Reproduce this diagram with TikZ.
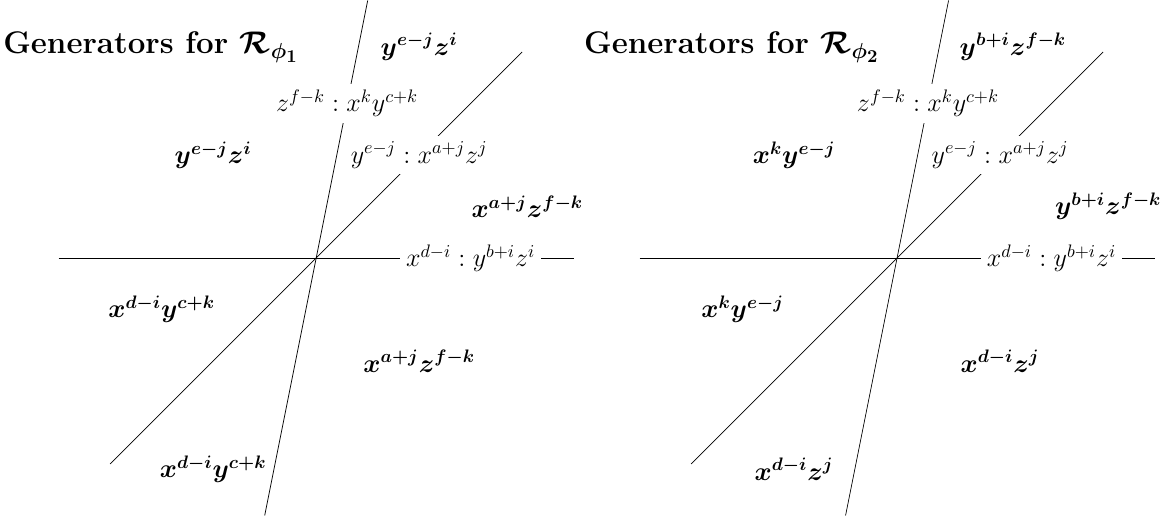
\documentclass[tikz,border=0pt]{standalone}
\usepackage{amsmath}
\usepackage{bm}
\usepackage{tikz}

\tikzset{
  gen/.style={font=\Large},
  cut/.style={fill=white, font=\Large},
  paneltitle/.style={font=\LARGE\bfseries, anchor=base west}
}

\begin{document}
\begin{tikzpicture}
\useasboundingbox (-6.14,-5.07) rectangle (16.58,5.01);

% Left fan
\begin{scope}
% Lines through the origin
\draw (-5,0) -- (5,0);
\draw (-4,-4) -- (4,4);
\draw (-1,-5) -- (1,5);

% Labels on the lines
\node[cut] (hA) at (3,0) {$x^{d-i} : y^{b+i}z^{i}$};
\node[cut] (dA) at (2,2) {$y^{e-j} : x^{a+j}z^{j}$};
\node[cut] (sA) at (0.6,3) {$z^{f-k} : x^{k}y^{c+k}$};

% Generators in the chambers
\node[paneltitle] (tA) at (-6.2,3.97) {Generators for $\bm{\mathcal{R}_{\phi_1}}$};
\node[gen] (gA1) at (2,4.1) {$\bm{y^{e-j}z^{i}}$};
\node[gen] (gA2) at (-2,2) {$\bm{y^{e-j}z^{i}}$};
\node[gen] (gA3) at (4.1,1) {$\bm{x^{a+j}z^{f-k}}$};
\node[gen] (gA4) at (-3,-1) {$\bm{x^{d-i}y^{c+k}}$};
\node[gen] (gA5) at (2,-2) {$\bm{x^{a+j}z^{f-k}}$};
\node[gen] (gA6) at (-2,-4.1) {$\bm{x^{d-i}y^{c+k}}$};
\end{scope}

% Right fan
\begin{scope}[xshift=11.28cm]
% Lines through the origin
\draw (-5,0) -- (5,0);
\draw (-4,-4) -- (4,4);
\draw (-1,-5) -- (1,5);

% Labels on the lines
\node[cut] (hB) at (3,0) {$x^{d-i} : y^{b+i}z^{i}$};
\node[cut] (dB) at (2,2) {$y^{e-j} : x^{a+j}z^{j}$};
\node[cut] (sB) at (0.6,3) {$z^{f-k} : x^{k}y^{c+k}$};

% Generators in the chambers
\node[paneltitle] (tB) at (-6.2,3.97) {Generators for $\bm{\mathcal{R}_{\phi_2}}$};
\node[gen] (gB1) at (2.25,4.1) {$\bm{y^{b+i}z^{f-k}}$};
\node[gen] (gB2) at (-2,2) {$\bm{x^{k}y^{e-j}}$};
\node[gen] (gB3) at (4.1,1) {$\bm{y^{b+i}z^{f-k}}$};
\node[gen] (gB4) at (-3,-1) {$\bm{x^{k}y^{e-j}}$};
\node[gen] (gB5) at (2,-2) {$\bm{x^{d-i}z^{j}}$};
\node[gen] (gB6) at (-2,-4.1) {$\bm{x^{d-i}z^{j}}$};
\end{scope}

\end{tikzpicture}
\end{document}
